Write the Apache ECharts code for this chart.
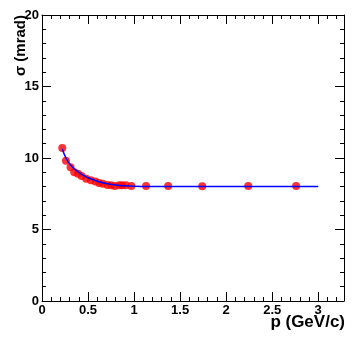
<!DOCTYPE html>
<html>
<head>
<meta charset="utf-8">
<script src="https://cdn.jsdelivr.net/npm/echarts@6/dist/echarts.min.js"></script>
<style>
html,body{margin:0;padding:0;background:#fff;}
#chart{width:354px;height:341px;}
</style>
</head>
<body>
<div id="chart"></div>
<script>
// measured points
var pVals     = [0.22, 0.26, 0.31, 0.35, 0.39, 0.43, 0.48, 0.53, 0.58, 0.62, 0.66, 0.71, 0.75, 0.79, 0.84, 0.87, 0.91, 0.97, 1.13, 1.37, 1.74, 2.24, 2.76];
var sigmaVals = [10.7, 9.8, 9.35, 9.0, 8.9, 8.75, 8.55, 8.45, 8.35, 8.25, 8.2, 8.12, 8.1, 8.05, 8.1, 8.1, 8.1, 8.05, 8.05, 8.05, 8.02, 8.05, 8.05];
// fit curve
var fitP      = [0.22, 0.26, 0.3, 0.35, 0.4, 0.45, 0.5, 0.6, 0.7, 0.8, 0.9, 1.0, 1.2, 1.5, 2.0, 2.5, 3.0];
var fitSigma  = [10.65, 10.0, 9.6, 9.25, 9.0, 8.78, 8.62, 8.38, 8.22, 8.12, 8.06, 8.03, 8.01, 8.0, 8.0, 8.0, 8.0];
var xTicks = [0, 0.5, 1, 1.5, 2, 2.5, 3];
var yTicks = [0, 5, 10, 15, 20];

var pts = [];
for (var i = 0; i < pVals.length; i++) pts.push([pVals[i], sigmaVals[i]]);
var fit = [];
for (var j = 0; j < fitP.length; j++) fit.push([fitP[j], fitSigma[j]]);

var font = 'Liberation Sans, Arial, sans-serif';
var lineStyle = {color: '#000', width: 1};
var axisLine = {onZero: false, lineStyle: lineStyle};
var chart = echarts.init(document.getElementById('chart'));
chart.setOption({
    animation: false,
    grid: {left: 42, right: 10, top: 15, bottom: 40, containLabel: false, outerBoundsMode: 'none'},
    graphic: [{
        type: 'text', right: 9, top: 314,
        style: {text: 'p (GeV/c)', fill: '#000', font: 'bold 17px ' + font}
    }, {
        type: 'text', x: 13, y: 15, rotation: Math.PI / 2,
        style: {text: 'σ (mrad)', fill: '#000', font: 'bold 15px ' + font, align: 'right', verticalAlign: 'top'}
    }],
    xAxis: [{
        type: 'value', min: 0, max: 3.28, interval: 0.5,
        axisLine: axisLine,
        axisTick: {inside: true, length: 9, lineStyle: lineStyle},
        minorTick: {show: true, splitNumber: 5, length: 4, lineStyle: lineStyle},
        splitLine: {show: false},
        axisLabel: {
            color: '#000', fontFamily: font, fontWeight: 'bold', fontSize: 13, margin: 3,
            showMaxLabel: false,
            formatter: function (v) { return xTicks.indexOf(v) >= 0 ? String(v) : ''; }
        }
    }, {
        type: 'value', position: 'top', min: 0, max: 3.28, interval: 0.5,
        axisLine: axisLine,
        axisTick: {inside: true, length: 9, lineStyle: lineStyle},
        minorTick: {show: true, splitNumber: 5, length: 4, lineStyle: lineStyle},
        splitLine: {show: false}, axisLabel: {show: false}
    }],
    yAxis: [{
        type: 'value', min: 0, max: 20, interval: 5,
        axisLine: axisLine,
        axisTick: {inside: true, length: 9, lineStyle: lineStyle},
        minorTick: {show: true, splitNumber: 5, length: 4, lineStyle: lineStyle},
        splitLine: {show: false},
        axisLabel: {color: '#000', fontFamily: font, fontWeight: 'bold', fontSize: 13, margin: 3,
            formatter: function (v) { return yTicks.indexOf(v) >= 0 ? String(v) : ''; }}
    }, {
        type: 'value', position: 'right', min: 0, max: 20, interval: 5,
        axisLine: axisLine,
        axisTick: {inside: true, length: 9, lineStyle: lineStyle},
        minorTick: {show: true, splitNumber: 5, length: 4, lineStyle: lineStyle},
        splitLine: {show: false}, axisLabel: {show: false}
    }],
    series: [{
        type: 'scatter', data: pts, symbol: 'circle', symbolSize: 8,
        itemStyle: {color: '#ff0000'}, z: 2
    }, {
        type: 'line', data: fit, smooth: true, showSymbol: false,
        lineStyle: {color: '#0000ff', width: 1.5}, z: 3
    }]
});
</script>
</body>
</html>
